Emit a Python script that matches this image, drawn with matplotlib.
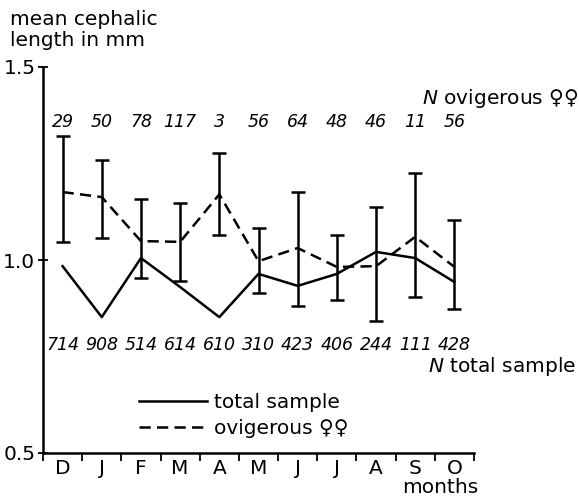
import matplotlib
matplotlib.use("Agg")
import matplotlib.pyplot as plt
from matplotlib.lines import Line2D

# monthly data
months = ['D', 'J', 'F', 'M', 'A', 'M', 'J', 'J', 'A', 'S', 'O']
total_mean = [0.984, 0.852, 1.005, 0.930, 0.852, 0.964, 0.933, 0.964, 1.021, 1.005, 0.943]
ovig_mean = [1.176, 1.163, 1.049, 1.047, 1.170, 0.997, 1.031, 0.982, 0.984, 1.060, 0.982]
ovig_low = [1.047, 1.057, 0.953, 0.946, 1.065, 0.915, 0.881, 0.896, 0.842, 0.904, 0.873]
ovig_high = [1.321, 1.259, 1.158, 1.148, 1.277, 1.083, 1.176, 1.065, 1.137, 1.225, 1.104]
n_ovig = [29, 50, 78, 117, 3, 56, 64, 48, 46, 11, 56]
n_total = [714, 908, 514, 614, 610, 310, 423, 406, 244, 111, 428]

plt.rcParams['font.family'] = ['DejaVu Sans']
W, H = 579, 498
FS = 14.5
fig = plt.figure(figsize=(W / 100, H / 100), dpi=100)
ax = fig.add_axes([43 / W, 1 - 453 / H, (474 - 43) / W, (453 - 67) / H])

x = list(range(len(months)))
err = [[m - lo for m, lo in zip(ovig_mean, ovig_low)],
       [hi - m for m, hi in zip(ovig_mean, ovig_high)]]

ax.errorbar(x, ovig_mean, yerr=err, fmt='none', ecolor='black',
            elinewidth=1.8, capsize=5, capthick=1.8)
ax.plot(x, ovig_mean, color='black', lw=1.8, linestyle=(0, (4.5, 2.5)))
ax.plot(x, total_mean, color='black', lw=1.8, linestyle='-')

# sample sizes
for i in x:
    ax.text(i, 1.358, str(n_ovig[i]), ha='center', va='center',
            style='italic', fontsize=12.5)
    ax.text(i, 0.780, str(n_total[i]), ha='center', va='center',
            style='italic', fontsize=12.5)

fig.text(578 / W, 1 - 99 / H, r'$\it{N}$ ovigerous ♀♀', ha='right',
         va='center', fontsize=FS)
fig.text(576 / W, 1 - 367 / H, r'$\it{N}$ total sample', ha='right',
         va='center', fontsize=FS)

ax.set_xlim(-0.5, len(months) - 0.5)
ax.set_ylim(0.5, 1.5)
ax.spines['top'].set_visible(False)
ax.spines['right'].set_visible(False)
ax.spines['left'].set_linewidth(1.8)
ax.spines['bottom'].set_linewidth(1.8)

ax.set_yticks([0.5, 1.0, 1.5])
ax.set_yticklabels(['0.5', '1.0', '1.5'], fontsize=FS)
ax.tick_params(axis='y', direction='inout', length=7, width=1.3, pad=2)

# boundaries get tick marks, month names sit between them
ax.set_xticks([i - 0.5 for i in range(len(months) + 1)])
ax.set_xticklabels([])
ax.tick_params(axis='x', which='major', direction='out', length=6, width=1.3)
ax.set_xticks(x, minor=True)
ax.set_xticklabels(months, minor=True, fontsize=FS)
ax.tick_params(axis='x', which='minor', length=0, pad=4)

fig.text(10 / W, 1 - 10 / H, 'mean cephalic\nlength in mm', ha='left',
         va='top', fontsize=FS, linespacing=1.12)
fig.text(478 / W, 1 - 487 / H, 'months', ha='right', va='center', fontsize=FS)

handles = [Line2D([], [], color='black', lw=1.8),
           Line2D([], [], color='black', lw=1.8, linestyle=(0, (4.5, 2.5)))]
ax.legend(handles, ['total sample', 'ovigerous ♀♀'], frameon=False,
          loc='upper left', bbox_to_anchor=(139 / W, 1 - 393 / H),
          bbox_transform=fig.transFigure, borderpad=0, borderaxespad=0,
          handlelength=3.4, handletextpad=0.3, labelspacing=0.36, fontsize=FS)

fig.savefig('out.png', dpi=100)
